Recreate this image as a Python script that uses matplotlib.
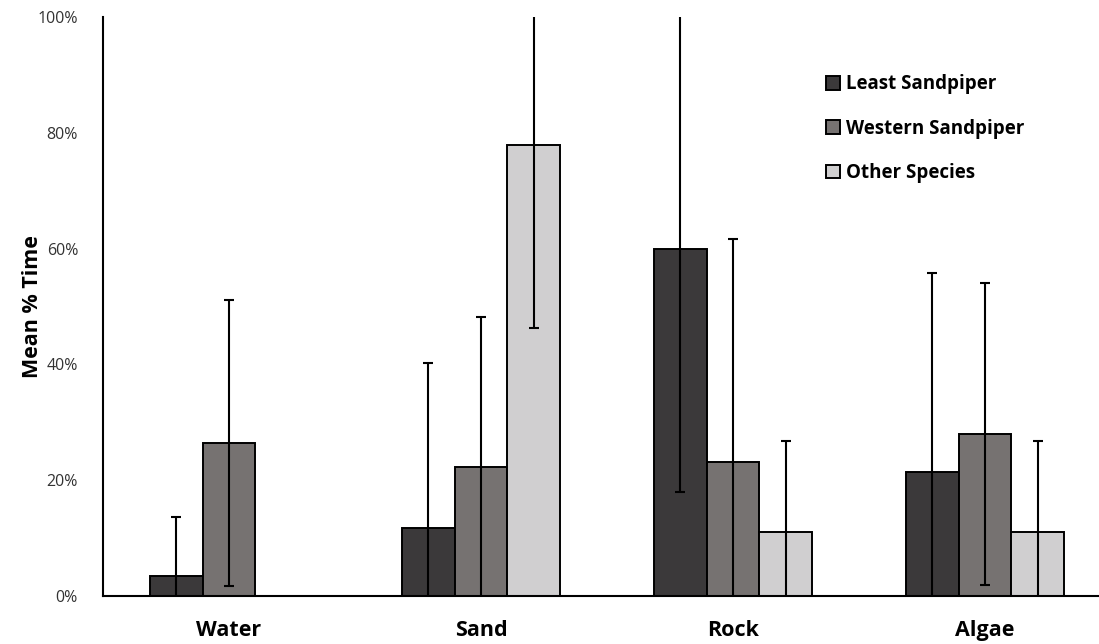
import numpy as np
import matplotlib
matplotlib.use("Agg")
import matplotlib.pyplot as plt
from matplotlib.ticker import PercentFormatter

# data (mean % time per habitat)
habitats = ["Water", "Sand", "Rock", "Algae"]
species = ["Least Sandpiper", "Western Sandpiper", "Other Species"]

least = [3.5, 11.8, 60.0, 21.4]
western = [26.4, 22.3, 23.1, 28.0]
other = [np.nan, 77.9, 11.1, 11.1]

least_err = [10.1, 28.4, 42.0, 34.4]
western_err = [24.7, 25.9, 38.5, 26.1]
other_err = [np.nan, 31.6, 15.7, 15.7]

y_ticks = [0, 20, 40, 60, 80, 100]

colors = ["#3b393a", "#767271", "#d0cfd0"]

plt.rcParams['font.family'] = ['Open Sans', 'DejaVu Sans']

fig = plt.figure(figsize=(10.99, 6.44), dpi=100)
# axis runs a little past the right edge of the image, as in the reference
ax = fig.add_axes([103 / 1099, (644 - 596) / 644, 1008 / 1099, 579 / 644])

x = np.arange(len(habitats))
width = 0.21
series = [(least, least_err), (western, western_err), (other, other_err)]

for i, (vals, errs) in enumerate(series):
    pos = x + (i - 1) * width
    ax.bar(pos, vals, width, color=colors[i], edgecolor="black",
           linewidth=1.4, label=species[i], zorder=2)
    ax.errorbar(pos, vals, yerr=errs, fmt="none", ecolor="black",
                elinewidth=1.5, capsize=3.5, capthick=1.5, zorder=3)

ax.set_xlim(-0.5, len(habitats) - 0.5)
ax.set_ylim(0, 100)
ax.set_yticks(y_ticks)
ax.yaxis.set_major_formatter(PercentFormatter(decimals=0))
ax.set_xticks(x)
ax.set_xticklabels(habitats, fontsize=15.5, fontweight="bold")

ax.tick_params(axis="y", length=0, pad=18, labelsize=11.5, labelcolor="#333333")
ax.tick_params(axis="x", length=0, pad=17)

for side in ["top", "right"]:
    ax.spines[side].set_visible(False)
for side in ["left", "bottom"]:
    ax.spines[side].set_linewidth(1.5)
    ax.spines[side].set_color("black")

ax.set_ylabel("Mean % Time", fontsize=15.5, fontweight="bold", labelpad=-4)

leg = ax.legend(loc="upper left", bbox_to_anchor=(706 / 1008, 0.930),
                frameon=False, handlelength=0.75, handleheight=0.75,
                handletextpad=0.3, labelspacing=1.3,
                prop={"size": 13.5, "weight": "bold"})

fig.savefig("out.png", dpi=100)
